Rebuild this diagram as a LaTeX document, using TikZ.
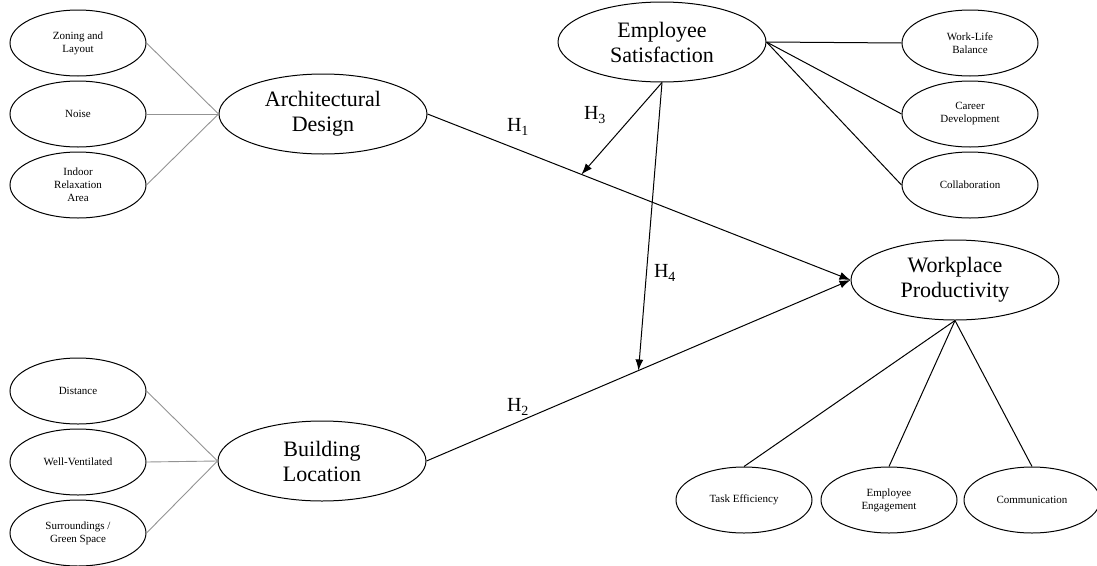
\documentclass[tikz,border=0pt]{standalone}
\usepackage{fontspec}
\setmainfont{Liberation Serif}
\usetikzlibrary{shapes.geometric, arrows.meta, positioning, calc}

\begin{document}
\begin{tikzpicture}[
        x=1pt, y=-1pt,
        item/.style={draw, ellipse, line width=1pt, minimum width=136pt, minimum height=66pt, inner sep=0pt, align=center, font=\fontsize{11}{13}\selectfont},
        construct/.style={draw, ellipse, line width=1pt, minimum width=208pt, minimum height=80pt, inner sep=0pt, align=center, font=\fontsize{22}{25}\selectfont},
        link/.style={gray!85, line width=0.9pt},
        tie/.style={line width=1pt},
        effect/.style={line width=1pt, -{Latex[length=11pt, width=8pt]}},
        hyp/.style={font=\fontsize{20}{20}\selectfont}
    ]
        \useasboundingbox (0,0) rectangle (1097,565);

        % constructs
        \node[construct] (arch) at (323,114) {Architectural\\Design};
        \node[construct] (build) at (322,461) {Building\\Location};
        \node[construct] (sat) at (662,42) {Employee\\Satisfaction};
        \node[construct] (work) at (955,280) {Workplace\\Productivity};

        % indicators
        \node[item] (zoning) at (78,43) {Zoning and\\Layout};
        \node[item, below=4pt of zoning] (noise) {Noise};
        \node[item, below=4pt of noise] (relax) {Indoor\\Relaxation\\Area};

        \node[item] (dist) at (78,391) {Distance};
        \node[item, below=4pt of dist] (vent) {Well-Ventilated};
        \node[item, below=4pt of vent] (green) {Surroundings /\\Green Space};

        \node[item] (balance) at (970,43) {Work-Life\\Balance};
        \node[item, below=4pt of balance] (career) {Career\\Development};
        \node[item, below=4pt of career] (collab) {Collaboration};

        \node[item] (task) at (744,500) {Task Efficiency};
        \node[item, right=8pt of task] (engage) {Employee\\Engagement};
        \node[item, right=6pt of engage] (comm) {Communication};

        \foreach \n in {zoning, noise, relax}
            \draw[link] (\n.east) -- (arch.west);
        \foreach \n in {dist, vent, green}
            \draw[link] (\n.east) -- (build.west);
        \foreach \n in {balance, career, collab}
            \draw[tie] (sat.east) -- (\n.west);
        \foreach \n in {task, engage, comm}
            \draw[tie] (work.south) -- (\n.north);

        % hypotheses
        \draw[effect] (arch.east) -- (work.west);
        \draw[effect] (build.east) -- (work.west);
        \coordinate (m1) at ($(arch.east)!0.364!(work.west)$);
        \coordinate (m2) at ($(build.east)!0.5!(work.west)$);
        \draw[effect] (sat.south) -- (m1);
        \draw[effect] (sat.south) -- (m2);

        \node[hyp] (h1) at (518,127) {H\textsubscript{1}};
        \node[hyp] (h2) at (518,407) {H\textsubscript{2}};
        \node[hyp] (h3) at (595,115) {H\textsubscript{3}};
        \node[hyp] (h4) at (665,273) {H\textsubscript{4}};
    \end{tikzpicture}
\end{document}
